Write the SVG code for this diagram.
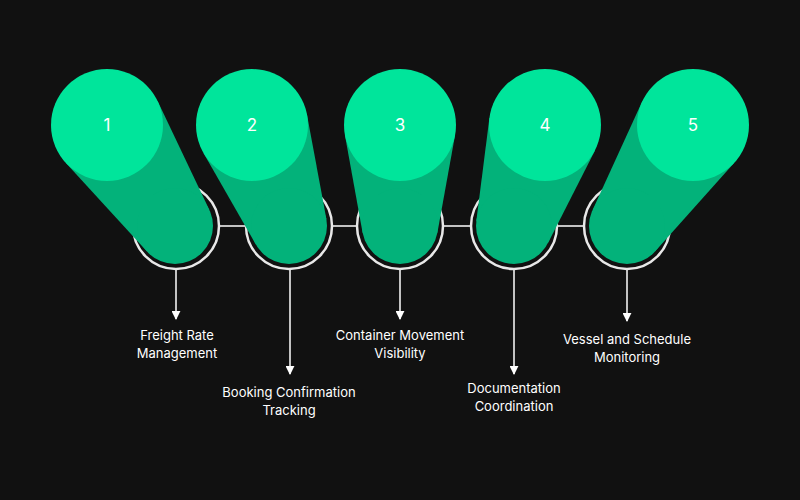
<svg xmlns="http://www.w3.org/2000/svg" width="800" height="500" viewBox="0 0 800 500">
<defs>
<style>
.tube{fill:#03b27a}
.top{fill:#00e59b}
.ring{fill:none;stroke:#e8e8e8;stroke-width:2.5}
.num{font-family:Inter,"Liberation Sans",sans-serif;font-size:17px;fill:#ffffff;text-anchor:middle}
.lbl{font-family:Inter,"Liberation Sans",sans-serif;font-size:13px;fill:#ffffff;text-anchor:middle}
.ln{stroke:#ffffff;stroke-width:1.5;fill:none}
</style>
<marker id="ah" viewBox="0 0 10 10" refX="9" refY="5" markerWidth="6" markerHeight="6" orient="auto"><path d="M0,0 L10,5 L0,10 Z" fill="#ffffff"/></marker>
</defs>
<rect width="800" height="500" fill="#111111"/>
<g id="connectors">
<line class="ln" x1="219" y1="226" x2="246" y2="226"/>
<line class="ln" x1="332" y1="226" x2="357" y2="226"/>
<line class="ln" x1="443" y1="226" x2="471" y2="226"/>
<line class="ln" x1="557" y1="226" x2="584" y2="226"/>
<line class="ln" x1="176" y1="270" x2="176" y2="319" marker-end="url(#ah)"/>
<line class="ln" x1="290" y1="270" x2="290" y2="374" marker-end="url(#ah)"/>
<line class="ln" x1="400" y1="270" x2="400" y2="319" marker-end="url(#ah)"/>
<line class="ln" x1="514" y1="270" x2="514" y2="374" marker-end="url(#ah)"/>
<line class="ln" x1="627" y1="270" x2="627" y2="321" marker-end="url(#ah)"/>
</g>
<g id="node1">
<circle class="ring" cx="176" cy="226" r="43"/>
<polygon class="tube" points="157.6,101 209.3,209.7 147,251.6 65.7,162.8"/>
<circle class="tube" cx="175" cy="226" r="38"/>
<circle class="top" cx="107" cy="125" r="56"/>
<text class="num" x="107" y="131">1</text>
<text class="lbl" x="177" y="340">Freight Rate</text>
<text class="lbl" x="177" y="358">Management</text>
</g>
<g id="node2">
<circle class="ring" cx="289" cy="226" r="43"/>
<polygon class="tube" points="307,114.8 326.4,219.1 256,244.8 203.3,152.8"/>
<circle class="tube" cx="289" cy="226" r="38"/>
<circle class="top" cx="252" cy="125" r="56"/>
<text class="num" x="252" y="131">2</text>
<text class="lbl" x="289" y="397">Booking Confirmation</text>
<text class="lbl" x="289" y="415">Tracking</text>
</g>
<g id="node3">
<circle class="ring" cx="400" cy="226" r="43"/>
<polygon class="tube" points="344.9,135 455.1,135 437.4,232.8 362.6,232.8"/>
<circle class="tube" cx="400" cy="226" r="38"/>
<circle class="top" cx="400" cy="125" r="56"/>
<text class="num" x="400" y="131">3</text>
<text class="lbl" x="400" y="340">Container Movement</text>
<text class="lbl" x="400" y="358">Visibility</text>
</g>
<g id="node4">
<circle class="ring" cx="514" cy="226" r="43"/>
<polygon class="tube" points="489.4,117.9 595,150.4 547.9,243.2 476.3,221.2"/>
<circle class="tube" cx="514" cy="226" r="38"/>
<circle class="top" cx="545" cy="125" r="56"/>
<text class="num" x="545" y="131">4</text>
<text class="lbl" x="514" y="393">Documentation</text>
<text class="lbl" x="514" y="411">Coordination</text>
</g>
<g id="node5">
<circle class="ring" cx="627" cy="226" r="43"/>
<polygon class="tube" points="642.4,101 734.3,162.8 655,251.6 592.7,209.7"/>
<circle class="tube" cx="627" cy="226" r="38"/>
<circle class="top" cx="693" cy="125" r="56"/>
<text class="num" x="693" y="131">5</text>
<text class="lbl" x="627" y="344">Vessel and Schedule</text>
<text class="lbl" x="627" y="362">Monitoring</text>
</g>
</svg>
